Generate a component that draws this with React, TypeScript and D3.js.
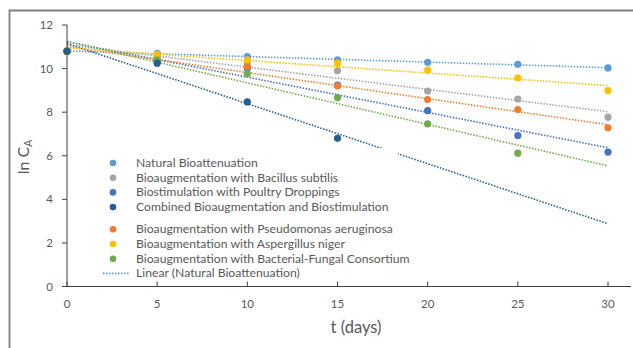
import * as React from "react";
import * as d3 from "d3";

const days = [0, 5, 10, 15, 20, 25, 30];

const seriesNames = [
  "Natural Bioattenuation",
  "Bioaugmentation with Bacillus subtilis",
  "Biostimulation with Poultry Droppings",
  "Combined Bioaugmentation and Biostimulation",
  "Bioaugmentation with Pseudomonas aeruginosa",
  "Bioaugmentation with Aspergillus niger",
  "Bioaugmentation with Bacterial-Fungal Consortium",
];

const natural = [10.8, 10.7, 10.55, 10.4, 10.29, 10.2, 10.03];
const bacillus = [10.8, 10.55, 10.3, 9.9, 8.97, 8.6, 7.77];
const poultry = [10.8, 10.35, 10.02, 9.24, 8.07, 6.93, 6.17];
const combined = [10.8, 10.25, 8.47, 6.8, null, null, null];
const pseudomonas = [10.8, 10.45, 10.1, 9.2, 8.58, 8.12, 7.28];
const aspergillus = [10.8, 10.65, 10.4, 10.25, 9.93, 9.57, 8.99];
const consortium = [10.8, 10.4, 9.76, 8.67, 7.46, 6.12, null];

const colors = ["#5B9BD5", "#A5A5A5", "#4472C4", "#255E91", "#ED7D31", "#FFC000", "#70AD47"];

const xTicks = [0, 5, 10, 15, 20, 25, 30];
const yTicks = [0, 2, 4, 6, 8, 10, 12];

const FONT = "Lato, 'Liberation Sans', sans-serif";
const TEXT = "#595959";

// least squares fit, like Excel's linear trendline
function fit(points) {
  const mx = d3.mean(points, (d) => d.t);
  const my = d3.mean(points, (d) => d.v);
  const sxy = d3.sum(points, (d) => (d.t - mx) * (d.v - my));
  const sxx = d3.sum(points, (d) => (d.t - mx) ** 2);
  const slope = sxy / sxx;
  return { slope, intercept: my - slope * mx };
}

export default function App() {
  const ref = React.useRef(null);

  React.useEffect(() => {
    const svg = d3.select(ref.current);
    svg.selectAll("*").remove();

    const x = d3.scaleLinear().domain([0, 30]).range([67, 608]);
    const y = d3.scaleLinear().domain([0, 12]).range([286.5, 25]);

    const series = [natural, bacillus, poultry, combined, pseudomonas, aspergillus, consortium].map(
      (vals, i) => ({
        name: seriesNames[i],
        color: colors[i],
        points: vals.map((v, j) => ({ t: days[j], v })).filter((d) => d.v != null),
      })
    );

    // chart border (cropped at right/bottom)
    svg.append("path")
      .attr("d", "M9.5,348 L9.5,10.5 L633,10.5")
      .attr("fill", "none")
      .attr("stroke", "#808080")
      .attr("stroke-width", 1.8);

    // trendlines
    const line = d3.line().x((d) => x(d[0])).y((d) => y(d[1]));
    series.forEach((s) => {
      const { slope, intercept } = fit(s.points);
      svg.append("path")
        .attr("d", line([[0, intercept], [30, intercept + slope * 30]]))
        .attr("fill", "none")
        .attr("stroke", s.color)
        .attr("stroke-width", 1.6)
        .attr("stroke-dasharray", "1.5 1.5");
    });

    // axes
    const g = svg.append("g").attr("font-family", FONT).attr("fill", TEXT);

    g.append("line")
      .attr("x1", 67).attr("x2", 631)
      .attr("y1", y(0)).attr("y2", y(0))
      .attr("stroke", "#404040").attr("stroke-width", 1);
    g.append("line")
      .attr("x1", 67).attr("x2", 67)
      .attr("y1", y(0)).attr("y2", y(12))
      .attr("stroke", "#404040").attr("stroke-width", 1);

    xTicks.forEach((t) => {
      g.append("line")
        .attr("x1", x(t)).attr("x2", x(t))
        .attr("y1", y(0)).attr("y2", y(0) - 5)
        .attr("stroke", "#404040");
      g.append("text")
        .attr("x", x(t)).attr("y", 308)
        .attr("text-anchor", "middle")
        .attr("font-size", 11.5)
        .text(t);
    });

    yTicks.forEach((v) => {
      g.append("line")
        .attr("x1", 62).attr("x2", 67)
        .attr("y1", y(v)).attr("y2", y(v))
        .attr("stroke", "#404040");
      g.append("text")
        .attr("x", 53).attr("y", y(v) + 4)
        .attr("text-anchor", "end")
        .attr("font-size", 11.5)
        .text(v);
    });

    g.append("text")
      .attr("x", 356).attr("y", 333)
      .attr("text-anchor", "middle")
      .attr("font-size", 16.5)
      .text("t (days)");

    const yt = g.append("text")
      .attr("transform", "translate(29,157) rotate(-90)")
      .attr("text-anchor", "middle")
      .attr("font-size", 16);
    yt.append("tspan").text("ln C");
    yt.append("tspan").attr("font-size", 10.5).attr("dy", 3).text("A");

    // legend sits above plot, white box hides trendlines behind it
    const legend = svg.append("g").attr("font-family", FONT).attr("font-size", 12.2);
    legend.append("rect")
      .attr("x", 99).attr("y", 148)
      .attr("width", 299).attr("height", 132)
      .attr("fill", "#fff");

    const rowY = (i) => 163 + i * 14.7 + (i > 3 ? 7.5 : 0);
    series.forEach((s, i) => {
      legend.append("circle")
        .attr("cx", 113).attr("cy", rowY(i))
        .attr("r", 3.3).attr("fill", s.color);
      legend.append("text")
        .attr("x", 136).attr("y", rowY(i) + 4)
        .attr("fill", TEXT)
        .text(s.name);
    });
    legend.append("line")
      .attr("x1", 103).attr("x2", 130)
      .attr("y1", rowY(7)).attr("y2", rowY(7))
      .attr("stroke", colors[0])
      .attr("stroke-width", 1.6)
      .attr("stroke-dasharray", "1.5 1.5");
    legend.append("text")
      .attr("x", 136).attr("y", rowY(7) + 4)
      .attr("fill", TEXT)
      .text("Linear (Natural Bioattenuation)");

    // data points; combined treatment on top, as in the reference
    const drawOrder = [0, 1, 2, 4, 5, 6, 3];
    drawOrder.forEach((i) => {
      const s = series[i];
      svg.append("g")
        .selectAll("circle")
        .data(s.points)
        .enter()
        .append("circle")
        .attr("cx", (d) => x(d.t))
        .attr("cy", (d) => y(d.v))
        .attr("r", 3.6)
        .attr("fill", s.color);
    });
  }, []);

  return (
    <svg
      ref={ref}
      width={633}
      height={348}
      style={{ position: "absolute", left: 0, top: 0, background: "#fff" }}
    />
  );
}
